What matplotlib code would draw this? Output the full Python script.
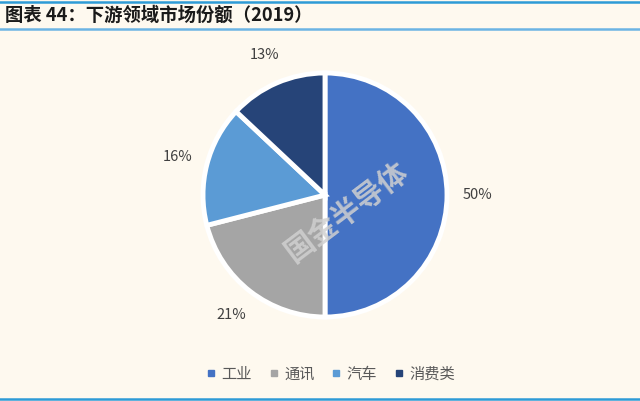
import matplotlib
matplotlib.use("Agg")
import matplotlib.pyplot as plt
from matplotlib.lines import Line2D

categories = ["工业", "通讯", "汽车", "消费类"]
values = [50, 21, 16, 13]
colors = ["#4472C4", "#A5A5A5", "#5B9BD5", "#264478"]
title = "图表 44：下游领域市场份额（2019）"

plt.rcParams['font.family'] = ['Noto Sans CJK SC', 'DejaVu Sans']
bg = "#FEF9EF"
W, H = 640, 401
fig = plt.figure(figsize=(W/100, H/100), dpi=100, facecolor=bg)

fig.add_artist(Line2D([0, 1], [1 - 1.5/H, 1 - 1.5/H], color="#2E9BD6", lw=1.8))
fig.add_artist(Line2D([0, 1], [1 - 29/H, 1 - 29/H], color="#6CB4E4", lw=1.8))
fig.add_artist(Line2D([0, 1], [2/H, 2/H], color="#2E9BD6", lw=1.8))

fig.text(5/W, 1 - 15/H, title, fontsize=13.2, fontweight="bold", fontstyle="italic",
         color="#1a1a1a", va="center", ha="left")

cx, cy, r = 325, 195, 122
ax = fig.add_axes([(cx - r)/W, (H - cy - r)/H, 2*r/W, 2*r/H])
ax.set_facecolor(bg)
wedges, texts, autotexts = ax.pie(values, colors=colors, startangle=90, counterclock=False,
       autopct=lambda p: f"{p:.0f}%", pctdistance=1.25,
       wedgeprops=dict(edgecolor="white", linewidth=3.5),
       textprops=dict(fontsize=10.5, color="#404040"))
ax.set_xlim(-1, 1)
ax.set_ylim(-1, 1)
ax.axis("off")

fig.text(347/W, 1 - 212/H, "国金半导体", fontsize=21, fontweight="bold", color="#D0D0D0",
         alpha=0.85, rotation=37, ha="center", va="center")

handles = [Line2D([], [], marker="s", linestyle="none", markersize=5, color=c) for c in colors]
fig.legend(handles, categories, loc="center", bbox_to_anchor=(330/W, 1 - 374/H),
           ncol=4, frameon=False, fontsize=11, labelcolor="#595959",
           handletextpad=0.3, columnspacing=1.0, handlelength=0.8)

fig.savefig("out.png", dpi=100, facecolor=bg)
